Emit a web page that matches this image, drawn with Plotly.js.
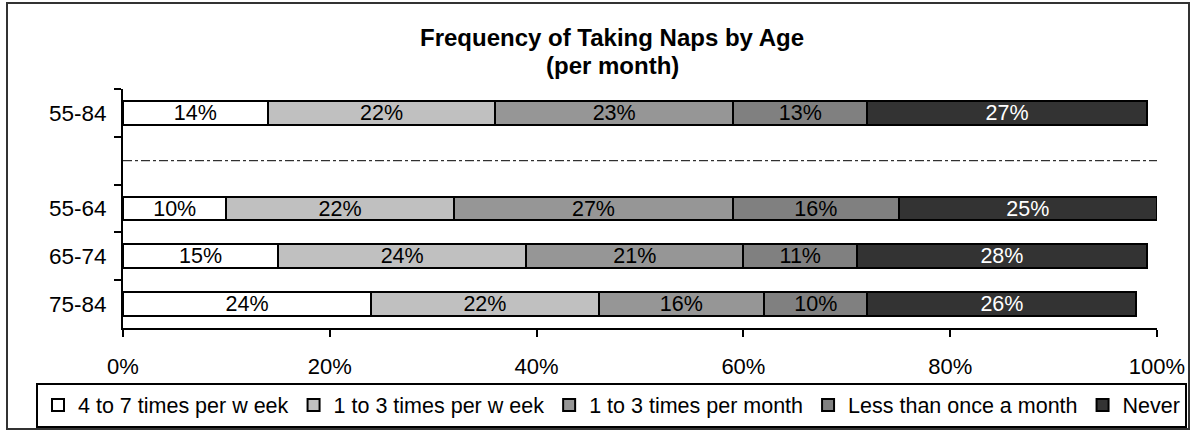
<!DOCTYPE html>
<html>
<head>
<meta charset="utf-8">
<script src="https://cdn.plot.ly/plotly-3.0.1.min.js"></script>
<style>
  html, body { margin: 0; padding: 0; background: #ffffff; }
  #chart { width: 1192px; height: 432px; }
</style>
</head>
<body>
<div id="chart"></div>
<script>
// ---- data ----
var groups = ['55-84', '55-64', '65-74', '75-84'];
var spacer = ' ';
var seriesNames = ['4 to 7 times per w eek', '1 to 3 times per w eek', '1 to 3 times per month', 'Less than once a month', 'Never'];
var fourToSevenWeek = [14, 10, 15, 24];
var oneToThreeWeek = [22, 22, 24, 22];
var oneToThreeMonth = [23, 27, 21, 16];
var lessThanMonth = [13, 16, 11, 10];
var never = [27, 25, 28, 26];
var xTickVals = [0, 20, 40, 60, 80, 100];
var xTickText = ['0%', '20%', '40%', '60%', '80%', '100%'];
var titleLine1 = 'Frequency of Taking Naps by Age';
var titleLine2 = '(per month)';

// ---- styles ----
var fills = ['#ffffff', '#c0c0c0', '#969696', '#808080', '#333333'];
var textColors = ['#000000', '#000000', '#000000', '#000000', '#ffffff'];
var FONT = 'Liberation Sans, Arial, Helvetica, sans-serif';

var W = 1192, Hh = 432;
var L = 123, R = 35, T = 89, B = 104;
var plotW = W - L - R, plotH = Hh - T - B;
function px2x(px) { return (px - L) / plotW; }
function py2y(py) { return (T + plotH - py) / plotH; }

var categoryOrder = [groups[0], spacer].concat(groups.slice(1));
var allValues = [fourToSevenWeek, oneToThreeWeek, oneToThreeMonth, lessThanMonth, never];

var traces = allValues.map(function (vals, i) {
  return {
    type: 'bar',
    orientation: 'h',
    name: seriesNames[i],
    x: vals,
    y: groups,
    text: vals.map(function (v) { return v + '%'; }),
    marker: { color: fills[i], line: { color: '#000000', width: 2 } },
    textposition: 'inside',
    insidetextanchor: 'middle',
    textangle: 0,
    constraintext: 'none',
    textfont: { family: FONT, size: 21.5, color: textColors[i] },
    hoverinfo: 'skip'
  };
});

var layout = {
  width: W,
  height: Hh,
  paper_bgcolor: '#ffffff',
  plot_bgcolor: '#ffffff',
  barmode: 'stack',
  bargap: 0.5,
  margin: { l: L, r: R, t: T, b: B, autoexpand: false },
  font: { family: FONT, size: 21.5, color: '#000000' },
  xaxis: {
    range: [0, 100],
    tickvals: xTickVals,
    ticktext: xTickText,
    ticks: 'outside', ticklen: 7, tickwidth: 2, tickcolor: '#000000',
    showline: true, linewidth: 2, linecolor: '#000000',
    showgrid: false, zeroline: false,
    tickfont: { family: FONT, size: 22, color: '#000000' },
    ticklabelstandoff: 11,
    fixedrange: true
  },
  yaxis: {
    type: 'category',
    categoryorder: 'array',
    categoryarray: categoryOrder,
    range: [categoryOrder.length - 0.5, -0.5],
    tickson: 'boundaries',
    ticks: 'outside', ticklen: 7, tickwidth: 2, tickcolor: '#000000',
    showline: true, linewidth: 2, linecolor: '#000000',
    showgrid: false, zeroline: false,
    tickfont: { family: FONT, size: 22.5, color: '#000000' },
    ticklabelstandoff: 10,
    fixedrange: true
  },
  showlegend: true,
  legend: {
    orientation: 'h',
    x: px2x(36), xanchor: 'left',
    y: py2y(405), yanchor: 'middle',
    bordercolor: '#000000', borderwidth: 2,
    bgcolor: '#ffffff',
    font: { family: FONT, size: 21.5, color: '#000000' },
    traceorder: 'normal',
    itemclick: false, itemdoubleclick: false
  },
  annotations: [
    {
      text: '<b>' + titleLine1 + '</b>', showarrow: false,
      xref: 'paper', yref: 'paper', x: px2x(612), y: py2y(37),
      xanchor: 'center', yanchor: 'middle',
      font: { family: FONT, size: 24, color: '#000000' }
    },
    {
      text: '<b>' + titleLine2 + '</b>', showarrow: false,
      xref: 'paper', yref: 'paper', x: px2x(612), y: py2y(66),
      xanchor: 'center', yanchor: 'middle',
      font: { family: FONT, size: 24, color: '#000000' }
    }
  ],
  shapes: [
    {
      type: 'line', xref: 'x', yref: 'y',
      x0: 0, x1: 100,
      y0: categoryOrder.indexOf(spacer), y1: categoryOrder.indexOf(spacer),
      line: { color: '#000000', width: 1, dash: 'dashdot' }
    },
    {
      type: 'rect', xref: 'paper', yref: 'paper',
      x0: px2x(7), x1: px2x(1189), y0: py2y(429), y1: py2y(3),
      line: { color: '#333333', width: 2 },
      fillcolor: 'rgba(0,0,0,0)', layer: 'below'
    }
  ]
};

Plotly.newPlot('chart', traces, layout, { displayModeBar: false, staticPlot: true });
</script>
</body>
</html>
